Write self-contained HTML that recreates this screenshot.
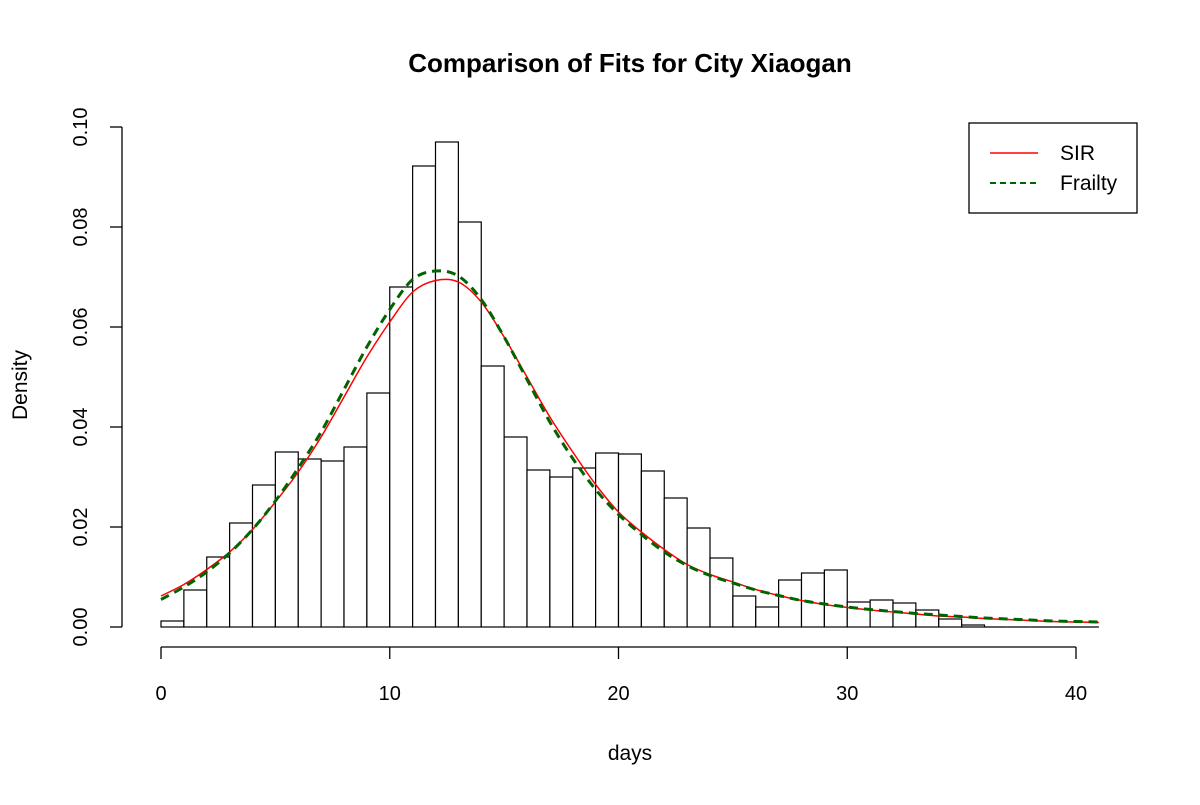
<!DOCTYPE html>
<html><head><meta charset="utf-8"><style>
body{margin:0;background:#fff}
svg text{font-family:"Liberation Sans",Arial,sans-serif;fill:#000}
</style></head><body>
<svg id="c" width="1200" height="800">
<text x="630" y="72" text-anchor="middle" font-size="26" font-weight="bold">Comparison of Fits for City Xiaogan</text>
<text x="630" y="760" text-anchor="middle" font-size="21">days</text>
<text transform="translate(27,385) rotate(-90)" text-anchor="middle" font-size="21">Density</text>
<g id="bars"></g><g id="axes"></g><g id="lines"></g>
<g>
<rect x="969" y="123" width="168" height="90" fill="#fff" stroke="#000" stroke-width="1.3"/>
<line x1="990" y1="153" x2="1038" y2="153" stroke="red" stroke-width="1.5"/>
<text x="1060" y="160" font-size="21">SIR</text>
<line x1="990" y1="183" x2="1038" y2="183" stroke="#006400" stroke-width="2" stroke-dasharray="6,4"/>
<text x="1060" y="190" font-size="21">Frailty</text>
</g>
</svg>
<script>
const binStarts=[0,1,2,3,4,5,6,7,8,9,10,11,12,13,14,15,16,17,18,19,20,21,22,23,24,25,26,27,28,29,30,31,32,33,34,35,36,37,38,39,40];
const densities=[0.0012,0.0074,0.014,0.0208,0.0284,0.035,0.0336,0.0332,0.036,0.0468,0.068,0.0922,0.097,0.081,0.0522,0.038,0.0314,0.030,0.0318,0.0348,0.0346,0.0312,0.0258,0.0198,0.0138,0.0062,0.004,0.0094,0.0108,0.0114,0.005,0.0054,0.0048,0.0034,0.0016,0.0004,0,0,0,0,0];
const curveX=[0,1,2,3,4,5,6,7,8,9,10,11,12,13,14,15,16,17,18,19,20,21,22,23,24,25,26,27,28,29,30,31,32,33,34,35,36,37,38,39,40,41];
const sirY=[0.0062,0.0085,0.0115,0.015,0.0195,0.025,0.031,0.038,0.046,0.054,0.061,0.067,0.0693,0.069,0.065,0.058,0.050,0.042,0.035,0.0285,0.023,0.019,0.0155,0.0125,0.0105,0.009,0.0075,0.0063,0.0053,0.0045,0.0039,0.0034,0.003,0.0026,0.0022,0.002,0.0017,0.0015,0.0013,0.0011,0.001,0.0009];
const frailtyY=[0.0055,0.008,0.011,0.0148,0.0195,0.0252,0.0318,0.039,0.0475,0.056,0.0635,0.0695,0.0712,0.0702,0.0655,0.058,0.0495,0.041,0.0337,0.0275,0.0225,0.0185,0.015,0.0123,0.0103,0.0088,0.0074,0.0063,0.0053,0.0046,0.004,0.0035,0.0031,0.0027,0.0024,0.0021,0.0018,0.0016,0.0014,0.0012,0.0011,0.001];
const xTicks=[0,10,20,30,40];
const yTicks=[0,0.02,0.04,0.06,0.08,0.10];
const yTickLabels=["0.00","0.02","0.04","0.06","0.08","0.10"];
const X=v=>161+v*22.875, Y=v=>627-v*5000;
const NS="http://www.w3.org/2000/svg";
function mk(tag,attrs,parent){const e=document.createElementNS(NS,tag);for(const k in attrs)e.setAttribute(k,attrs[k]);parent.appendChild(e);return e;}
const bars=document.getElementById('bars');
binStarts.forEach((b,i)=>{const h=densities[i];
 let r;
 if(h>0){r=mk('rect',{x:X(b),y:Y(h),width:X(b+1)-X(b),height:Y(0)-Y(h),fill:'#fff',stroke:'#000','stroke-width':1.2},bars);}
 else{r=mk('line',{x1:X(b),y1:Y(0),x2:X(b+1),y2:Y(0),stroke:'#000','stroke-width':1.2},bars);}
 
 });
const ax=document.getElementById('axes');
mk('line',{x1:X(0),y1:647,x2:X(40),y2:647,stroke:'#000','stroke-width':1.3},ax);
xTicks.forEach(t=>{mk('line',{x1:X(t),y1:647,x2:X(t),y2:659,stroke:'#000','stroke-width':1.3},ax);
 const tx=mk('text',{x:X(t),y:700,'text-anchor':'middle','font-size':20},ax);tx.textContent=t;
 
 });
mk('line',{x1:122,y1:Y(0),x2:122,y2:Y(0.1),stroke:'#000','stroke-width':1.3},ax);
yTicks.forEach((t,i)=>{mk('line',{x1:110,y1:Y(t),x2:122,y2:Y(t),stroke:'#000','stroke-width':1.3},ax);
 const tx=mk('text',{x:0,y:0,'text-anchor':'middle','font-size':20,transform:`translate(87,${Y(t)}) rotate(-90)`},ax);tx.textContent=yTickLabels[i];
 
 });
function path(xs,ys){const p=xs.map((x,i)=>[X(x),Y(ys[i])]);let d=`M${p[0][0]},${p[0][1]}`;
 for(let i=0;i<p.length-1;i++){const p0=p[i-1]||p[i],p1=p[i],p2=p[i+1],p3=p[i+2]||p2;
  d+=` C${p1[0]+(p2[0]-p0[0])/6},${p1[1]+(p2[1]-p0[1])/6} ${p2[0]-(p3[0]-p1[0])/6},${p2[1]-(p3[1]-p1[1])/6} ${p2[0]},${p2[1]}`;}
 return d;}
const ln=document.getElementById('lines');
const s=mk('path',{d:path(curveX,sirY),fill:'none',stroke:'red','stroke-width':1.5},ln);


const f=mk('path',{d:path(curveX,frailtyY),fill:'none',stroke:'#006400','stroke-width':3,'stroke-dasharray':'9,6'},ln);


</script>
</body></html>
